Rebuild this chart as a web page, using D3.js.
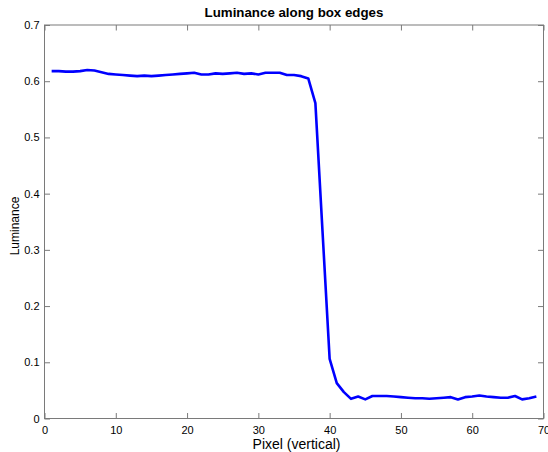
<!DOCTYPE html>
<html><head><meta charset="utf-8">
<script src="https://cdn.jsdelivr.net/npm/d3@7"></script>
<style>
html,body{margin:0;padding:0;background:#fff;}
svg{display:block;font-family:"Liberation Sans",Arial,sans-serif;}
</style></head>
<body>
<svg id="c" width="548" height="452"></svg>
<script>
const pixels = d3.range(1, 70);
const luminance = [
 0.618,0.618,0.617,0.617,0.618,0.620,0.619,0.616,0.613,0.612,
 0.611,0.610,0.609,0.610,0.609,0.610,0.611,0.612,0.613,0.614,
 0.615,0.612,0.612,0.614,0.613,0.614,0.615,0.613,0.614,0.612,
 0.615,0.615,0.615,0.611,0.611,0.609,0.605,0.561,0.333,0.106,
 0.063,0.047,0.035,0.039,0.034,0.040,0.040,0.040,0.039,0.038,
 0.037,0.036,0.036,0.035,0.036,0.037,0.038,0.034,0.038,0.039,
 0.041,0.039,0.038,0.037,0.037,0.040,0.034,0.036,0.039
];
const xTicks = [0,10,20,30,40,50,60,70];
const yTicks = [0,0.1,0.2,0.3,0.4,0.5,0.6,0.7];
const titleText = "Luminance along box edges";
const xLabel = "Pixel (vertical)";
const yLabel = "Luminance";

const svg = d3.select("#c");
const L = 44.5, R = 543.5, T = 25, B = 418.5;
const x = d3.scaleLinear().domain([0,70]).range([L,R]);
const y = d3.scaleLinear().domain([0,0.7]).range([B,T]);
const axisCol = "#7a7a7a";
const tl = 5.5;

svg.append("rect").attr("x",L).attr("y",T).attr("width",R-L).attr("height",B-T)
  .attr("fill","none").attr("stroke",axisCol).attr("stroke-width",1);

const fmtY = d => d===0 ? "0" : d3.format(".1f")(d);
const gx = svg.append("g").attr("transform",`translate(0,${B})`)
  .call(d3.axisBottom(x).tickValues(xTicks).tickSizeInner(-tl).tickSizeOuter(0).tickPadding(8));
const gxt = svg.append("g").attr("transform",`translate(0,${T})`)
  .call(d3.axisTop(x).tickValues(xTicks).tickSizeInner(-tl).tickSizeOuter(0).tickFormat(""));
const gy = svg.append("g").attr("transform",`translate(${L},0)`)
  .call(d3.axisLeft(y).tickValues(yTicks).tickSizeInner(-tl).tickSizeOuter(0).tickPadding(5).tickFormat(fmtY));
const gyr = svg.append("g").attr("transform",`translate(${R},0)`)
  .call(d3.axisRight(y).tickValues(yTicks).tickSizeInner(-tl).tickSizeOuter(0).tickFormat(""));
[gx,gxt,gy,gyr].forEach(g=>{
  g.select(".domain").remove();
  g.selectAll("line").attr("stroke",axisCol);
  g.selectAll("text").attr("fill","#000").style("font-size","11px")
   .style("font-family","'Liberation Sans',Arial,sans-serif");
});

svg.append("path").datum(pixels.map((p,i)=>[p,luminance[i]]))
  .attr("fill","none").attr("stroke","#0000ff").attr("stroke-width",2.6)
  .attr("stroke-linejoin","round")
  .attr("d", d3.line().x(d=>x(d[0])).y(d=>y(d[1])));

svg.append("text").attr("x",294).attr("y",16.5).attr("text-anchor","middle")
  .style("font-size","13.3px").style("font-weight","bold").text(titleText);
svg.append("text").attr("x",296.5).attr("y",448.5).attr("text-anchor","middle")
  .style("font-size","14px").text(xLabel);
svg.append("text").attr("transform","translate(19,226) rotate(-90)").attr("text-anchor","middle")
  .style("font-size","12px").text(yLabel);
</script>
</body></html>
